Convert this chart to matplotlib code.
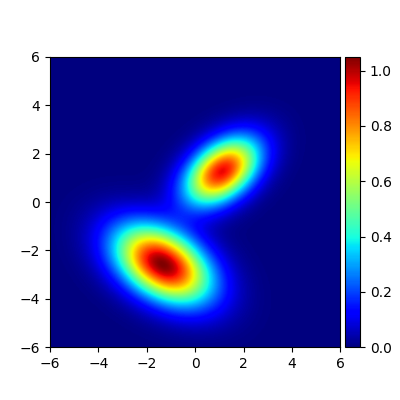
import numpy as np
import matplotlib
matplotlib.use("Agg")
import matplotlib.pyplot as plt
from mpl_toolkits.axes_grid1 import make_axes_locatable

# two gaussian bumps: amplitude, centre, sigmas, correlation
amps = [0.95, 1.05]
centers_x = [1.1, -1.35]
centers_y = [1.25, -2.6]
sigmas_x = [1.05, 1.35]
sigmas_y = [0.95, 1.1]
rhos = [0.42, -0.4]

x = np.linspace(-6, 6, 300)
y = np.linspace(-6, 6, 300)
X, Y = np.meshgrid(x, y)

Z = np.zeros_like(X)
for a, mx, my, sx, sy, r in zip(amps, centers_x, centers_y, sigmas_x, sigmas_y, rhos):
    dx = (X - mx) / sx
    dy = (Y - my) / sy
    q = (dx**2 - 2 * r * dx * dy + dy**2) / (1 - r**2)
    Z += a * np.exp(-q / 2)

fig = plt.figure(figsize=(4, 4))
ax = plt.gca()
im = ax.imshow(Z, extent=[-6, 6, -6, 6], origin='lower', cmap='jet')
divider = make_axes_locatable(ax)
cax = divider.append_axes("right", size="5%", pad=0.05)
plt.colorbar(im, cax=cax)

plt.savefig("out.png", dpi=100)
